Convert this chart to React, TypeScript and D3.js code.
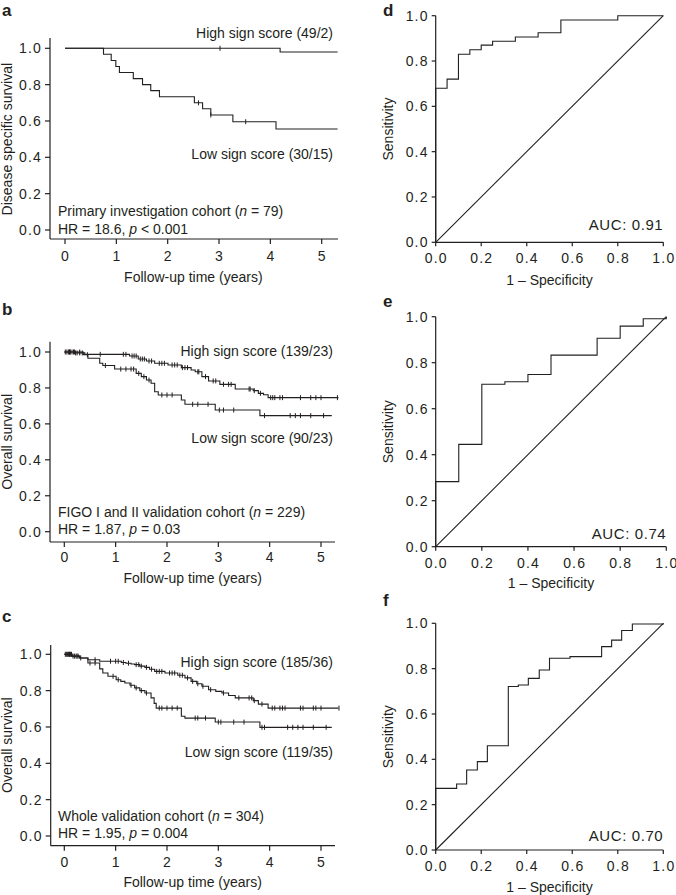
import React from 'react';
import * as d3 from 'd3';

const FONT = "'Liberation Sans', Arial, Helvetica, sans-serif";
const INK = '#231f20';

// ---------- Kaplan-Meier data ----------
const kmTicksX = [0, 1, 2, 3, 4, 5];
const kmTicksY = [0, 0.2, 0.4, 0.6, 0.8, 1.0];

const aHighT = [0, 4.19];
const aHighS = [1.0, 0.98];
const aHighEnd = 5.31;
const aHighCens = [3.02];
const aLowT = [0, 0.75, 0.9, 0.99, 1.06, 1.33, 1.51, 1.67, 1.84, 2.52, 2.68, 2.84, 3.27, 4.11];
const aLowS = [1, 0.967, 0.933, 0.9, 0.867, 0.833, 0.8, 0.767, 0.733, 0.7, 0.667, 0.633, 0.596, 0.556];
const aLowEnd = 5.31;
const aLowCens = [2.6, 2.84, 3.52];

const bHighT = [0, 0.2, 0.4, 1.27, 1.44, 1.6, 1.76, 2.02, 2.28, 2.47, 2.55, 2.68, 2.81, 3.03, 3.33, 3.68, 3.78, 3.88, 3.97];
const bHighS = [1, 0.995, 0.987, 0.978, 0.961, 0.95, 0.937, 0.928, 0.913, 0.9, 0.89, 0.863, 0.839, 0.82, 0.794, 0.785, 0.77, 0.762, 0.746];
const bHighEnd = 5.34;
const bHighCens = [0.02, 0.05, 0.08, 0.1, 0.12, 0.15, 0.18, 0.22, 0.25, 0.3, 0.35, 0.7, 1.15, 1.2, 1.32, 1.36, 1.4, 1.48, 1.52, 1.56, 1.65, 1.7, 1.85, 1.9, 1.95, 2.1, 2.15, 2.2, 2.3, 2.35, 2.4, 2.6, 2.62, 2.75, 2.9, 2.95, 3.1, 3.2, 3.25, 3.6, 3.62, 3.7, 3.82, 4.02, 4.06, 4.1, 4.2, 4.25, 4.6, 4.8, 4.9, 5.0, 5.32];
const bLowT = [0, 0.37, 0.46, 0.69, 0.75, 0.98, 1.4, 1.5, 1.6, 1.69, 1.76, 1.83, 2.28, 2.35, 2.94, 3.81];
const bLowS = [1, 0.985, 0.965, 0.937, 0.925, 0.905, 0.881, 0.863, 0.844, 0.826, 0.779, 0.761, 0.733, 0.709, 0.677, 0.646];
const bLowEnd = 5.21;
const bLowCens = [0.1, 0.2, 0.3, 0.45, 0.8, 1.1, 1.2, 1.3, 1.35, 1.45, 1.55, 1.65, 1.9, 2.0, 2.1, 2.5, 2.6, 2.8, 3.02, 3.1, 3.3, 3.9, 4.4, 4.5, 4.6, 4.8, 5.05];

const cHighT = [0, 0.15, 0.3, 0.46, 0.69, 1.11, 1.2, 1.3, 1.37, 1.47, 1.57, 1.66, 1.76, 1.96, 2.21, 2.35, 2.47, 2.58, 2.68, 2.81, 2.95, 3.07, 3.2, 3.33, 3.68, 3.78, 3.97];
const cHighS = [1, 0.99, 0.98, 0.97, 0.962, 0.955, 0.951, 0.947, 0.943, 0.935, 0.928, 0.918, 0.906, 0.897, 0.885, 0.87, 0.851, 0.838, 0.824, 0.805, 0.796, 0.787, 0.773, 0.76, 0.745, 0.726, 0.704];
const cHighEnd = 5.34;
const cHighCens = [0.02, 0.04, 0.06, 0.08, 0.1, 0.12, 0.14, 0.17, 0.2, 0.23, 0.27, 0.32, 0.6, 0.9, 1.0, 1.05, 1.15, 1.25, 1.4, 1.45, 1.5, 1.6, 1.7, 1.8, 1.85, 1.9, 2.05, 2.1, 2.15, 2.25, 2.3, 2.4, 2.5, 2.6, 2.7, 2.85, 3.1, 3.4, 3.6, 3.65, 3.7, 3.85, 4.05, 4.1, 4.2, 4.25, 4.3, 4.6, 4.65, 4.85, 4.9, 5.0, 5.35];
const cLowT = [0, 0.15, 0.3, 0.46, 0.69, 0.75, 0.85, 1.01, 1.1, 1.18, 1.28, 1.37, 1.47, 1.57, 1.69, 1.75, 1.79, 2.28, 2.35, 2.94, 3.81];
const cLowS = [1, 0.99, 0.98, 0.952, 0.92, 0.897, 0.879, 0.86, 0.851, 0.842, 0.83, 0.815, 0.8, 0.787, 0.76, 0.73, 0.704, 0.659, 0.649, 0.627, 0.598];
const cLowEnd = 5.21;
const cLowCens = [0.1, 0.25, 0.5, 0.6, 0.95, 1.05, 1.3, 1.4, 1.5, 1.6, 1.85, 1.9, 2.0, 2.1, 2.2, 2.55, 2.6, 2.75, 3.0, 3.05, 3.3, 3.5, 3.85, 3.9, 4.35, 4.45, 4.55, 4.65, 4.85, 5.1];

// ---------- ROC data ----------
const rocTicks = [0, 0.2, 0.4, 0.6, 0.8, 1.0];
const dFpr = [0, 0.05, 0.1, 0.15, 0.2, 0.25, 0.35, 0.45, 0.55, 0.8, 1.0];
const dTpr = [0.68, 0.72, 0.83, 0.85, 0.87, 0.887, 0.906, 0.925, 0.981, 1.0, 1.0];
const eFpr = [0, 0.1, 0.2, 0.3, 0.4, 0.5, 0.7, 0.8, 0.9, 1.0];
const eTpr = [0.283, 0.445, 0.706, 0.717, 0.749, 0.833, 0.906, 0.959, 0.991, 1.0];
const fFpr = [0, 0.092, 0.136, 0.183, 0.227, 0.319, 0.363, 0.407, 0.455, 0.5, 0.59, 0.729, 0.773, 0.817, 0.864, 1.0];
const fTpr = [0.272, 0.291, 0.353, 0.39, 0.46, 0.721, 0.728, 0.757, 0.794, 0.846, 0.853, 0.897, 0.926, 0.968, 0.997, 1.0];

const fmt1 = d3.format('.1f');

function stepValue(t: number[], s: number[], x: number) {
  let v = s[0];
  for (let i = 0; i < t.length; i++) if (t[i] <= x) v = s[i];
  return v;
}

type Curve = { t: number[]; s: number[]; end: number; cens: number[] };

function KMPanel(props: any) {
  const { letter, letterY, yLabel, x, y, axisX, cornerY, topY, rightX, tickLabelY, xLabelY, curves, children } = props;
  const line = d3.line<[number, number]>().x((d) => x(d[0])).y((d) => y(d[1])).curve(d3.curveStepAfter);
  return (
    <g>
      <text x={2} y={letterY} fontSize={17} fontWeight="bold" fontFamily={FONT} fill={INK}>{letter}</text>
      <text transform={`translate(12,${(y(0) + y(1)) / 2}) rotate(-90)`} textAnchor="middle" fontSize={14} fontFamily={FONT} fill={INK}>{yLabel}</text>
      <line x1={axisX} x2={axisX} y1={topY} y2={cornerY} stroke={INK} strokeWidth={1.2} />
      <line x1={axisX} x2={rightX} y1={cornerY} y2={cornerY} stroke={INK} strokeWidth={1.2} />
      {kmTicksY.map((v) => (
        <g key={'y' + v}>
          <line x1={axisX - 5} x2={axisX} y1={y(v)} y2={y(v)} stroke={INK} strokeWidth={1.2} />
          <text x={axisX - 8} y={y(v) + 5} textAnchor="end" fontSize={14} letterSpacing={1.2} fontFamily={FONT} fill={INK}>{fmt1(v)}</text>
        </g>
      ))}
      {kmTicksX.map((v) => (
        <g key={'x' + v}>
          <line x1={x(v)} x2={x(v)} y1={cornerY} y2={cornerY + 5} stroke={INK} strokeWidth={1.2} />
          <text x={x(v)} y={tickLabelY} textAnchor="middle" fontSize={14} fontFamily={FONT} fill={INK}>{v}</text>
        </g>
      ))}
      <text x={(x(0) + x(5)) / 2} y={xLabelY} textAnchor="middle" fontSize={14} fontFamily={FONT} fill={INK}>Follow-up time (years)</text>
      {curves.map((c: Curve, i: number) => {
        const pts: [number, number][] = c.t.map((t, j) => [t, c.s[j]] as [number, number]);
        pts.push([c.end, c.s[c.s.length - 1]]);
        return (
          <g key={i}>
            <path d={line(pts) || ''} fill="none" stroke={INK} strokeWidth={1.1} />
            {c.cens.map((ct, k) => {
              const yy = y(stepValue(c.t, c.s, ct));
              return <line key={k} x1={x(ct)} x2={x(ct)} y1={yy - 2.5} y2={yy + 2.5} stroke={INK} strokeWidth={1} />;
            })}
          </g>
        );
      })}
      {children}
    </g>
  );
}

function ROCPanel(props: any) {
  const { letter, letterY, x, y, fpr, tpr, tickLabelY, xLabelY, auc, aucY } = props;
  const line = d3.line<[number, number]>().x((d) => x(d[0])).y((d) => y(d[1])).curve(d3.curveStepAfter);
  const pts: [number, number][] = [[0, 0]];
  fpr.forEach((f: number, i: number) => pts.push([f, tpr[i]]));
  const diag = d3.line<[number, number]>().x((d) => x(d[0])).y((d) => y(d[1]));
  return (
    <g>
      <text x={383} y={letterY} fontSize={17} fontWeight="bold" fontFamily={FONT} fill={INK}>{letter}</text>
      <text transform={`translate(393,${(y(0) + y(1)) / 2}) rotate(-90)`} textAnchor="middle" fontSize={14} fontFamily={FONT} fill={INK}>Sensitivity</text>
      <line x1={x(0)} x2={x(0)} y1={y(1)} y2={y(0)} stroke={INK} strokeWidth={1.2} />
      <line x1={x(0)} x2={x(1)} y1={y(0)} y2={y(0)} stroke={INK} strokeWidth={1.2} />
      {rocTicks.map((v) => (
        <g key={'t' + v}>
          <line x1={x(0) - 4} x2={x(0)} y1={y(v)} y2={y(v)} stroke={INK} strokeWidth={1.2} />
          <text x={x(0) - 7} y={y(v) + 5} textAnchor="end" fontSize={14} letterSpacing={1.2} fontFamily={FONT} fill={INK}>{fmt1(v)}</text>
          <line x1={x(v)} x2={x(v)} y1={y(0)} y2={y(0) + 4} stroke={INK} strokeWidth={1.2} />
          <text x={x(v) + 0.6} y={tickLabelY} textAnchor="middle" fontSize={14} letterSpacing={1.2} fontFamily={FONT} fill={INK}>{fmt1(v)}</text>
        </g>
      ))}
      <text x={(x(0) + x(1)) / 2} y={xLabelY} textAnchor="middle" fontSize={14} fontFamily={FONT} fill={INK}>1 – Specificity</text>
      <path d={diag([[0, 0], [1, 1]]) || ''} fill="none" stroke={INK} strokeWidth={1.1} />
      <path d={line(pts) || ''} fill="none" stroke={INK} strokeWidth={1.1} />
      <text x={x(1)} y={aucY} textAnchor="end" fontSize={15} letterSpacing={0.6} fontFamily={FONT} fill={INK}>{auc}</text>
    </g>
  );
}

export default function App() {
  const xa = d3.scaleLinear().domain([0, 5]).range([65, 321.7]);
  const ya = d3.scaleLinear().domain([0, 1]).range([230, 48.3]);
  const xb = d3.scaleLinear().domain([0, 5]).range([64.3, 321]);
  const yb = d3.scaleLinear().domain([0, 1]).range([531.7, 352]);
  const xc = d3.scaleLinear().domain([0, 5]).range([64.3, 321]);
  const yc = d3.scaleLinear().domain([0, 1]).range([836, 654.3]);

  const xd = d3.scaleLinear().domain([0, 1]).range([435.7, 663.3]);
  const yd = d3.scaleLinear().domain([0, 1]).range([242.3, 15.7]);
  const xe = d3.scaleLinear().domain([0, 1]).range([435.7, 666.3]);
  const ye = d3.scaleLinear().domain([0, 1]).range([546.7, 316.7]);
  const xf = d3.scaleLinear().domain([0, 1]).range([435.7, 663.3]);
  const yf = d3.scaleLinear().domain([0, 1]).range([850, 623.3]);

  const tx = { fontSize: 14, fontFamily: FONT, fill: INK } as any;

  return (
    <svg width={676} height={895} style={{ position: 'absolute', left: 0, top: 0, background: '#fff' }}>
      <rect width={676} height={895} fill="#fff" />
      <KMPanel letter="a" letterY={16} yLabel="Disease specific survival" x={xa} y={ya} axisX={50} cornerY={239} topY={38} rightX={338}
        tickLabelY={261} xLabelY={282}
        curves={[{ t: aHighT, s: aHighS, end: aHighEnd, cens: aHighCens }, { t: aLowT, s: aLowS, end: aLowEnd, cens: aLowCens }]}>
        <text x={333} y={38} textAnchor="end" {...tx}>High sign score (49/2)</text>
        <text x={333} y={158.5} textAnchor="end" {...tx}>Low sign score (30/15)</text>
        <text x={58} y={216} {...tx}>Primary investigation cohort (<tspan fontStyle="italic">n</tspan> = 79)</text>
        <text x={58} y={234} {...tx}>HR = 18.6, <tspan fontStyle="italic">p</tspan> &lt; 0.001</text>
      </KMPanel>
      <KMPanel letter="b" letterY={315} yLabel="Overall survival" x={xb} y={yb} axisX={50} cornerY={542} topY={341.7} rightX={335}
        tickLabelY={562} xLabelY={583}
        curves={[{ t: bHighT, s: bHighS, end: bHighEnd, cens: bHighCens }, { t: bLowT, s: bLowS, end: bLowEnd, cens: bLowCens }]}>
        <text x={333} y={355.5} textAnchor="end" {...tx}>High sign score (139/23)</text>
        <text x={333} y={443} textAnchor="end" {...tx}>Low sign score (90/23)</text>
        <text x={58} y={517} {...tx}>FIGO I and II validation cohort (<tspan fontStyle="italic">n</tspan> = 229)</text>
        <text x={58} y={534} {...tx}>HR = 1.87, <tspan fontStyle="italic">p</tspan> = 0.03</text>
      </KMPanel>
      <KMPanel letter="c" letterY={622} yLabel="Overall survival" x={xc} y={yc} axisX={50.7} cornerY={845.7} topY={645} rightX={335}
        tickLabelY={866.5} xLabelY={887}
        curves={[{ t: cHighT, s: cHighS, end: cHighEnd, cens: cHighCens }, { t: cLowT, s: cLowS, end: cLowEnd, cens: cLowCens }]}>
        <text x={333} y={667} textAnchor="end" {...tx}>High sign score (185/36)</text>
        <text x={333} y={757} textAnchor="end" {...tx}>Low sign score (119/35)</text>
        <text x={58} y={821} {...tx}>Whole validation cohort (<tspan fontStyle="italic">n</tspan> = 304)</text>
        <text x={58} y={838} {...tx}>HR = 1.95, <tspan fontStyle="italic">p</tspan> = 0.004</text>
      </KMPanel>
      <ROCPanel letter="d" letterY={16} x={xd} y={yd} fpr={dFpr} tpr={dTpr} tickLabelY={263} xLabelY={285} auc="AUC: 0.91" aucY={229.5} />
      <ROCPanel letter="e" letterY={307} x={xe} y={ye} fpr={eFpr} tpr={eTpr} tickLabelY={568} xLabelY={588} auc="AUC: 0.74" aucY={539} />
      <ROCPanel letter="f" letterY={606} x={xf} y={yf} fpr={fFpr} tpr={fTpr} tickLabelY={871} xLabelY={892} auc="AUC: 0.70" aucY={840.5} />
    </svg>
  );
}
